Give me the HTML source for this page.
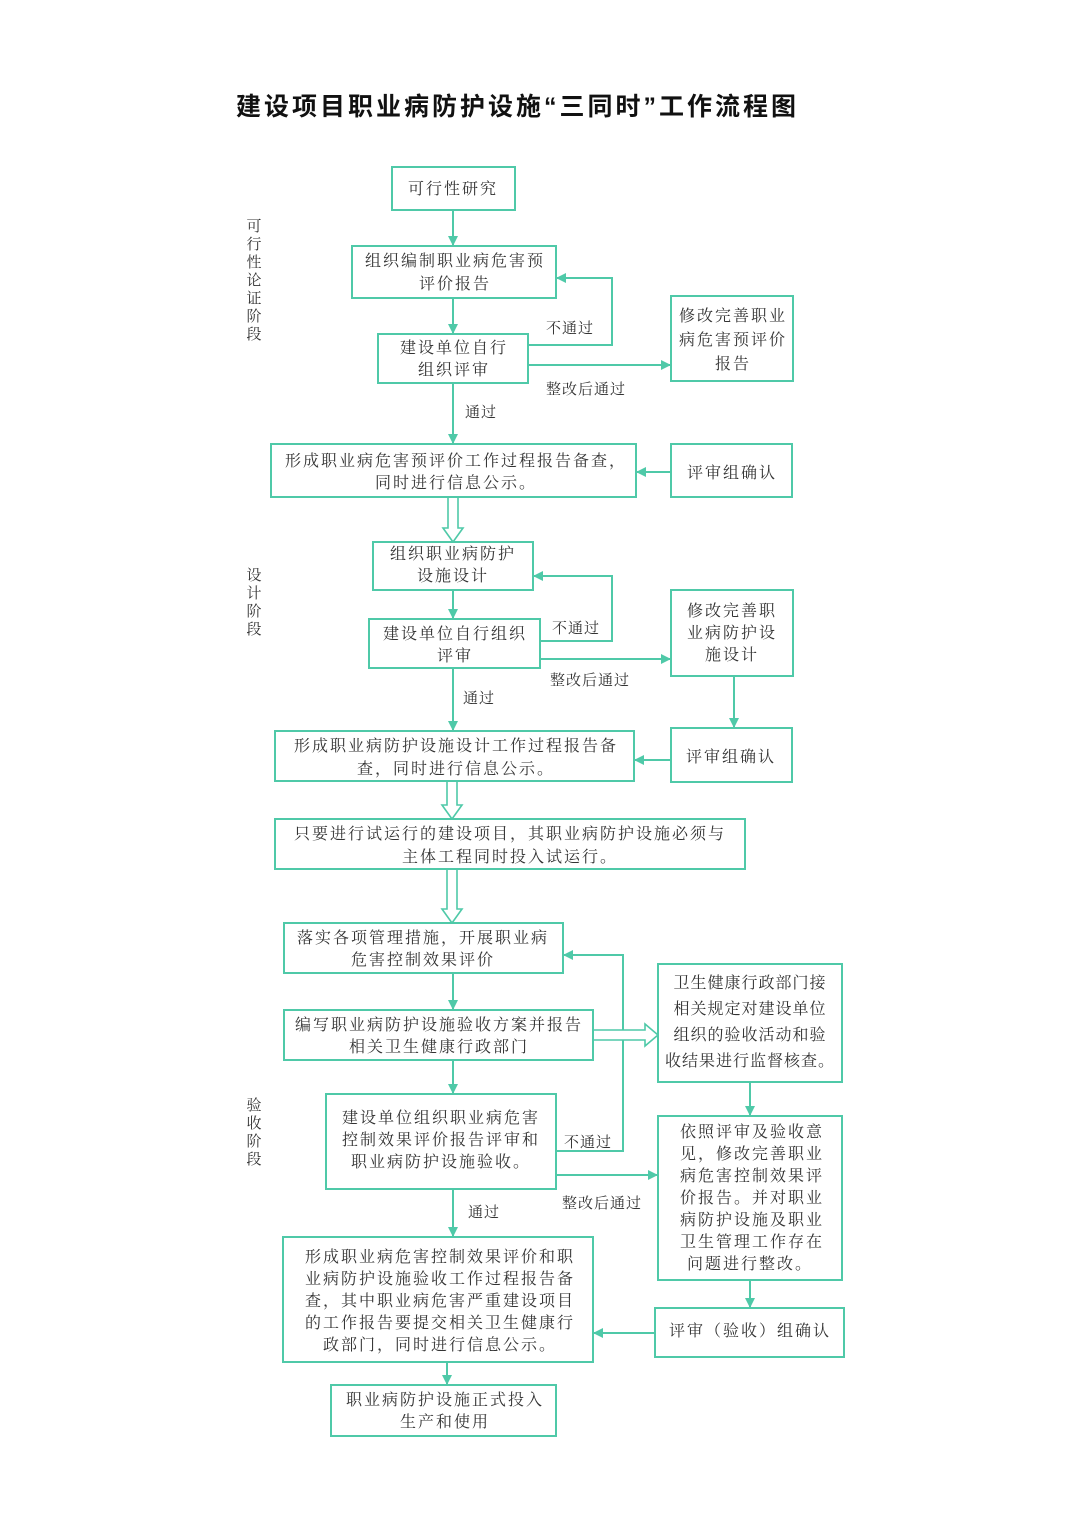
<!DOCTYPE html>
<html><head><meta charset="utf-8"><style>
html,body{margin:0;padding:0;background:#fff;}
svg{display:block;}
text{font-family:"Liberation Serif","Noto Serif CJK SC",serif;fill:#333;font-size:16px;letter-spacing:2px;text-anchor:middle;}
.t{font-family:"Liberation Sans","Noto Sans CJK SC",sans-serif;font-size:25px;font-weight:bold;fill:#111;letter-spacing:3px;text-anchor:start;}
.s{font-size:15px;letter-spacing:0;}
.l{font-size:15px;letter-spacing:1px;}
.n{letter-spacing:1px;}
rect{fill:#fff;stroke:#4fc9a8;stroke-width:2;}
.c{stroke:#4fc9a8;stroke-width:2;fill:none;}
.h{stroke:#4fc9a8;stroke-width:1.6;fill:#fff;}
</style></head><body>
<svg width="1080" height="1528" viewBox="0 0 1080 1528" xmlns="http://www.w3.org/2000/svg">
<defs><marker id="a" markerWidth="10" markerHeight="10" refX="9" refY="5" orient="auto" markerUnits="userSpaceOnUse"><path d="M0,0 L10,5 L0,10 Z" fill="#4fc9a8"/></marker></defs>
<text class="t" x="236" y="115">建设项目职业病防护设施“三同时”工作流程图</text>

<text class="s" x="254" y="231">可</text><text class="s" x="254" y="249">行</text><text class="s" x="254" y="267">性</text><text class="s" x="254" y="285">论</text><text class="s" x="254" y="303">证</text><text class="s" x="254" y="321">阶</text><text class="s" x="254" y="339">段</text>
<text class="s" x="254" y="580">设</text><text class="s" x="254" y="598">计</text><text class="s" x="254" y="616">阶</text><text class="s" x="254" y="634">段</text>
<text class="s" x="254" y="1110">验</text><text class="s" x="254" y="1128">收</text><text class="s" x="254" y="1146">阶</text><text class="s" x="254" y="1164">段</text>

<g class="c">
<line x1="453" y1="210" x2="453" y2="245" marker-end="url(#a)"/>
<line x1="453" y1="298" x2="453" y2="333" marker-end="url(#a)"/>
<polyline points="528,345 612,345 612,278 557,278" marker-end="url(#a)"/>
<line x1="528" y1="365" x2="670" y2="365" marker-end="url(#a)"/>
<line x1="453" y1="383" x2="453" y2="443" marker-end="url(#a)"/>
<line x1="671" y1="472" x2="637" y2="472" marker-end="url(#a)"/>
<line x1="453" y1="590" x2="453" y2="618" marker-end="url(#a)"/>
<polyline points="540,641 612,641 612,576 534,576" marker-end="url(#a)"/>
<line x1="540" y1="659" x2="670" y2="659" marker-end="url(#a)"/>
<line x1="453" y1="668" x2="453" y2="730" marker-end="url(#a)"/>
<line x1="734" y1="676" x2="734" y2="727" marker-end="url(#a)"/>
<line x1="671" y1="760" x2="635" y2="760" marker-end="url(#a)"/>
<line x1="453" y1="973" x2="453" y2="1009" marker-end="url(#a)"/>
<line x1="453" y1="1060" x2="453" y2="1093" marker-end="url(#a)"/>
<polyline points="556,1151 623,1151 623,955 564,955" marker-end="url(#a)"/>
<line x1="556" y1="1175" x2="657" y2="1175" marker-end="url(#a)"/>
<line x1="750" y1="1082" x2="750" y2="1115" marker-end="url(#a)"/>
<line x1="750" y1="1280" x2="750" y2="1307" marker-end="url(#a)"/>
<line x1="453" y1="1189" x2="453" y2="1236" marker-end="url(#a)"/>
<line x1="655" y1="1333" x2="594" y2="1333" marker-end="url(#a)"/>
<line x1="447" y1="1362" x2="447" y2="1384" marker-end="url(#a)"/>
</g>
<path class="h" d="M448,497 L448,528 L443,528 L453,542 L463,528 L458,528 L458,497 Z"/>
<path class="h" d="M447,781 L447,805 L442,805 L452,819 L462,805 L457,805 L457,781 Z"/>
<path class="h" d="M447,869 L447,909 L442,909 L452,923 L462,909 L457,909 L457,869 Z"/>
<path class="h" d="M593,1030 L645,1030 L645,1024 L658,1035 L645,1046 L645,1040 L593,1040 Z"/>

<text class="l" x="570" y="333">不通过</text>
<text class="l" x="586" y="394">整改后通过</text>
<text class="l" x="481" y="417">通过</text>
<text class="l" x="576" y="633">不通过</text>
<text class="l" x="590" y="685">整改后通过</text>
<text class="l" x="479" y="703">通过</text>
<text class="l" x="588" y="1147">不通过</text>
<text class="l" x="602" y="1208">整改后通过</text>
<text class="l" x="484" y="1217">通过</text>

<rect x="392" y="167" width="123" height="43"/><text x="453" y="194">可行性研究</text>
<rect x="352" y="246" width="204" height="52"/><text x="455" y="266">组织编制职业病危害预</text><text x="455" y="289">评价报告</text>
<rect x="378" y="334" width="150" height="49"/><text x="454" y="353">建设单位自行</text><text x="454" y="375">组织评审</text>
<rect x="671" y="296" width="122" height="85"/><text x="733" y="321">修改完善职业</text><text x="733" y="345">病危害预评价</text><text x="733" y="369">报告</text>
<rect x="271" y="444" width="365" height="53"/><text x="456" y="466">形成职业病危害预评价工作过程报告备查，</text><text x="456" y="488">同时进行信息公示。</text>
<rect x="671" y="444" width="121" height="53"/><text x="732" y="478">评审组确认</text>
<rect x="373" y="542" width="160" height="48"/><text x="453" y="559">组织职业病防护</text><text x="453" y="581">设施设计</text>
<rect x="369" y="619" width="171" height="49"/><text x="455" y="639">建设单位自行组织</text><text x="455" y="661">评审</text>
<rect x="671" y="590" width="122" height="86"/><text x="732" y="616">修改完善职</text><text x="732" y="638">业病防护设</text><text x="732" y="660">施设计</text>
<rect x="275" y="731" width="359" height="50"/><text x="456" y="751">形成职业病防护设施设计工作过程报告备</text><text x="456" y="774">查，同时进行信息公示。</text>
<rect x="671" y="728" width="121" height="54"/><text x="731" y="762">评审组确认</text>
<rect x="275" y="819" width="470" height="50"/><text x="510" y="839">只要进行试运行的建设项目，其职业病防护设施必须与</text><text x="510" y="862">主体工程同时投入试运行。</text>
<rect x="284" y="923" width="279" height="50"/><text x="423" y="943">落实各项管理措施，开展职业病</text><text x="423" y="965">危害控制效果评价</text>
<rect x="284" y="1010" width="309" height="50"/><text x="439" y="1030">编写职业病防护设施验收方案并报告</text><text x="439" y="1052">相关卫生健康行政部门</text>
<rect x="658" y="964" width="184" height="118"/><text class="n" x="750" y="988">卫生健康行政部门接</text><text class="n" x="750" y="1014">相关规定对建设单位</text><text class="n" x="750" y="1040">组织的验收活动和验</text><text class="n" x="750" y="1066">收结果进行监督核查。</text>
<rect x="326" y="1094" width="230" height="95"/><text x="441" y="1123">建设单位组织职业病危害</text><text x="441" y="1145">控制效果评价报告评审和</text><text x="441" y="1167">职业病防护设施验收。</text>
<rect x="658" y="1116" width="184" height="164"/><text x="752" y="1137">依照评审及验收意</text><text x="752" y="1159">见，修改完善职业</text><text x="752" y="1181">病危害控制效果评</text><text x="752" y="1203">价报告。并对职业</text><text x="752" y="1225">病防护设施及职业</text><text x="752" y="1247">卫生管理工作存在</text><text x="750" y="1269">问题进行整改。</text>
<rect x="283" y="1237" width="310" height="125"/><text x="440" y="1262">形成职业病危害控制效果评价和职</text><text x="440" y="1284">业病防护设施验收工作过程报告备</text><text x="440" y="1306">查，其中职业病危害严重建设项目</text><text x="440" y="1328">的工作报告要提交相关卫生健康行</text><text x="440" y="1350">政部门，同时进行信息公示。</text>
<rect x="655" y="1308" width="189" height="49"/><text x="750" y="1336">评审（验收）组确认</text>
<rect x="331" y="1385" width="225" height="51"/><text x="445" y="1405">职业病防护设施正式投入</text><text x="445" y="1427">生产和使用</text>
</svg>
</body></html>
